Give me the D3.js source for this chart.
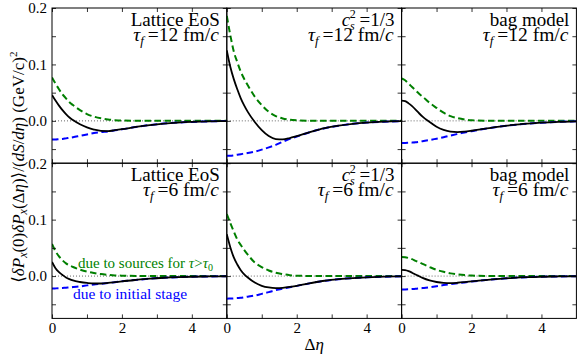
<!DOCTYPE html>
<html><head><meta charset="utf-8">
<script src="https://cdn.jsdelivr.net/npm/d3@7"></script>
<style>
body{margin:0;background:#fff}
svg{display:block}
svg text{font-family:"Liberation Serif","Times New Roman","DejaVu Serif",serif !important}
</style>
</head><body>
<svg id="c" width="581" height="355"></svg>
<script>
// ---- data ----
const dEta = [0,0.1,0.2,0.3,0.4,0.5,0.6,0.8,1.0,1.2,1.4,1.6,1.8,2.0,2.4,2.8,3.2,3.6,4.0,4.5,5.0];

const eosNames = ["Lattice EoS", "cs2", "bag model"];
const tauF = ["12", "6"];
const xTickValues = [0,1,2,3,4];
const xTickLabels = [0,2,4];
const yTickValues = [-0.05,0,0.05,0.1,0.15,0.2];
const yTickLabels = [0,0.1,0.2];

// top row: tau_f = 12 fm/c
const latt12Total   = [0.046,0.036,0.027,0.019,0.012,0.006,0.0015,-0.006,-0.0115,-0.0155,-0.0178,-0.018,-0.0165,-0.0148,-0.0108,-0.0074,-0.0048,-0.003,-0.0018,-0.0008,-0.0003];
const latt12Sources = [0.077,0.066,0.056,0.047,0.040,0.033,0.028,0.019,0.012,0.0075,0.0045,0.0025,0.0013,0.0006,0.0002,0,0,0,0,0,0];
const latt12Initial = [-0.033,-0.033,-0.0325,-0.032,-0.031,-0.030,-0.029,-0.0265,-0.024,-0.0215,-0.0198,-0.0186,-0.0168,-0.015,-0.0108,-0.0074,-0.0048,-0.003,-0.0018,-0.0008,-0.0003];

const cs12Total   = [0.125,0.096,0.074,0.056,0.040,0.027,0.016,-0.002,-0.0165,-0.027,-0.0322,-0.0328,-0.0305,-0.027,-0.0195,-0.013,-0.0085,-0.0052,-0.003,-0.0014,-0.0006];
const cs12Sources = [0.186,0.152,0.123,0.104,0.087,0.074,0.063,0.043,0.028,0.016,0.0085,0.0042,0.002,0.001,0.0003,0,0,0,0,0,0];
const cs12Initial = [-0.062,-0.0618,-0.061,-0.060,-0.059,-0.058,-0.057,-0.0545,-0.051,-0.047,-0.0425,-0.037,-0.032,-0.0278,-0.0197,-0.013,-0.0085,-0.0052,-0.003,-0.0014,-0.0006];

const bag12Total   = [0.036,0.035,0.031,0.026,0.020,0.0135,0.0075,-0.002,-0.0105,-0.016,-0.019,-0.0198,-0.019,-0.0175,-0.0138,-0.0102,-0.0072,-0.005,-0.0032,-0.0017,-0.0008];
const bag12Sources = [0.075,0.072,0.066,0.060,0.054,0.048,0.043,0.032,0.023,0.0145,0.0085,0.0048,0.0025,0.0012,0.0003,0,0,0,0,0,0];
const bag12Initial = [-0.039,-0.039,-0.0388,-0.0385,-0.038,-0.037,-0.036,-0.034,-0.0315,-0.029,-0.026,-0.0232,-0.0205,-0.0182,-0.0138,-0.0102,-0.0072,-0.005,-0.0032,-0.0017,-0.0008];

// bottom row: tau_f = 6 fm/c
const latt6Total   = [0.025,0.014,0.007,0.002,-0.0025,-0.0055,-0.0078,-0.0105,-0.0122,-0.0132,-0.0132,-0.0122,-0.0108,-0.0093,-0.0068,-0.0046,-0.003,-0.0019,-0.0012,-0.0006,-0.0003];
const latt6Sources = [0.057,0.044,0.035,0.028,0.0225,0.0188,0.016,0.0115,0.008,0.0055,0.0035,0.0022,0.0012,0.0007,0.0002,0,0,0,0,0,0];
const latt6Initial = [-0.022,-0.0218,-0.0215,-0.021,-0.0205,-0.020,-0.0195,-0.0183,-0.0165,-0.0148,-0.0137,-0.0124,-0.0109,-0.0093,-0.0068,-0.0046,-0.003,-0.0019,-0.0012,-0.0006,-0.0003];

const cs6Total   = [0.074,0.051,0.033,0.0205,0.0105,0.003,-0.0025,-0.0115,-0.0172,-0.0202,-0.0213,-0.0208,-0.0193,-0.0172,-0.0125,-0.0083,-0.0055,-0.0035,-0.0022,-0.0011,-0.0005];
const cs6Sources = [0.11,0.094,0.079,0.065,0.055,0.046,0.038,0.024,0.016,0.0098,0.006,0.0035,0.0015,0.0007,0.0002,0,0,0,0,0,0];
const cs6Initial = [-0.040,-0.0398,-0.0395,-0.039,-0.0385,-0.0375,-0.0365,-0.0345,-0.0315,-0.0285,-0.025,-0.0222,-0.0198,-0.0174,-0.0125,-0.0083,-0.0055,-0.0035,-0.0022,-0.0011,-0.0005];

const bag6Total   = [0.011,0.0105,0.0088,0.006,0.0027,-0.0003,-0.0033,-0.0078,-0.0105,-0.012,-0.0124,-0.0118,-0.0107,-0.0094,-0.0071,-0.0048,-0.0031,-0.0019,-0.0012,-0.0006,-0.0003];
const bag6Sources = [0.034,0.0335,0.032,0.030,0.027,0.0245,0.0215,0.016,0.011,0.0075,0.0048,0.003,0.0017,0.0009,0.0003,0,0,0,0,0,0];
const bag6Initial = [-0.0237,-0.0236,-0.0234,-0.023,-0.0225,-0.022,-0.0212,-0.0198,-0.018,-0.016,-0.0142,-0.0126,-0.0112,-0.0097,-0.0071,-0.0048,-0.0031,-0.0019,-0.0012,-0.0006,-0.0003];

const panels = [
  {row:0,col:0,total:latt12Total,sources:latt12Sources,initial:latt12Initial},
  {row:0,col:1,total:cs12Total,sources:cs12Sources,initial:cs12Initial},
  {row:0,col:2,total:bag12Total,sources:bag12Sources,initial:bag12Initial},
  {row:1,col:0,total:latt6Total,sources:latt6Sources,initial:latt6Initial},
  {row:1,col:1,total:cs6Total,sources:cs6Sources,initial:cs6Initial},
  {row:1,col:2,total:bag6Total,sources:bag6Sources,initial:bag6Initial}
];

// ---- layout ----
const svg = d3.select("#c");
const mLeft = 52, mTop = 8, pw = 174.8, ph = 155.2;
const GREEN = "#007f00", BLUE = "#0000ff";
const x = d3.scaleLinear().domain([0,5]).range([0,pw]);
const y = d3.scaleLinear().domain([-0.075,0.2]).range([ph,0]);
const fmtY = d3.format(".1f");
const isIn = (arr,v)=>arr.some(a=>Math.abs(a-v)<1e-9);

svg.append("defs").append("clipPath").attr("id","clip")
  .append("rect").attr("width",pw).attr("height",ph);

panels.forEach(p=>{
  const g = svg.append("g").attr("transform",`translate(${mLeft+p.col*pw},${mTop+p.row*ph})`);
  const plot = g.append("g").attr("clip-path","url(#clip)");
  plot.append("line").attr("x1",0).attr("x2",pw).attr("y1",y(0)).attr("y2",y(0))
    .attr("stroke","#000").attr("stroke-width",0.6).attr("stroke-dasharray","1,2");
  const line = arr => d3.line().x((d,i)=>x(dEta[i])).y(d=>y(d)).curve(d3.curveMonotoneX)(arr);
  plot.append("path").attr("d",line(p.sources)).attr("fill","none").attr("stroke",GREEN)
    .attr("stroke-width",2).attr("stroke-dasharray","6.5,3.5");
  plot.append("path").attr("d",line(p.initial)).attr("fill","none").attr("stroke",BLUE)
    .attr("stroke-width",2).attr("stroke-dasharray","6.5,3.5");
  plot.append("path").attr("d",line(p.total)).attr("fill","none").attr("stroke","#000")
    .attr("stroke-width",1.8);

  const axB = d3.axisBottom(x).tickValues(xTickValues).tickSize(-4).tickPadding(4)
    .tickFormat(v => (p.row===1 && isIn(xTickLabels,v)) ? String(v) : "");
  const axT = d3.axisTop(x).tickValues(xTickValues).tickSize(-4).tickFormat("");
  const axL = d3.axisLeft(y).tickValues(yTickValues).tickSize(-4).tickPadding(5)
    .tickFormat(v => (p.col===0 && isIn(yTickLabels,v)) ? fmtY(v) : "");
  const axR = d3.axisRight(y).tickValues(yTickValues).tickSize(-4).tickFormat("");
  [[axB,`translate(0,${ph})`],[axT,"translate(0,0)"],[axL,"translate(0,0)"],[axR,`translate(${pw},0)`]]
    .forEach(([ax,tr])=>{
      const a = g.append("g").attr("transform",tr).call(ax);
      a.attr("font-size", 15);
      a.select(".domain").remove();
      a.selectAll("line").attr("stroke","#000").attr("stroke-width",0.8);
      a.selectAll("text").attr("fill","#000");
    });
  g.append("rect").attr("width",pw).attr("height",ph).attr("fill","none")
    .attr("stroke","#000").attr("stroke-width",1);

  const rx = pw - 7;
  const t1 = g.append("text").attr("x",rx).attr("y",18).attr("text-anchor","end").attr("font-size",19);
  if (eosNames[p.col]==="cs2") {
    t1.append("tspan").attr("font-style","italic").text("c");
    t1.append("tspan").attr("font-style","italic").attr("font-size",12).attr("dy",4).text("s");
    t1.append("tspan").attr("font-size",12).attr("dx",-5).attr("dy",-12).text("2");
    t1.append("tspan").attr("dy",8).text("\u2009=1/3");
  } else {
    t1.text(eosNames[p.col]);
  }
  const t2 = g.append("text").attr("x",rx-1).attr("y",33).attr("text-anchor","end").attr("font-size",19.5);
  t2.append("tspan").attr("font-style","italic").text("\u03c4");
  t2.append("tspan").attr("font-style","italic").attr("font-size",13).attr("dy",4).text("f");
  t2.append("tspan").attr("dy",-4).text("\u2009=" + tauF[p.row] + " fm/");
  t2.append("tspan").attr("font-style","italic").text("c");
});

const ann1 = svg.append("text").attr("x",78).attr("y",267.5).attr("font-size",15).attr("fill",GREEN);
ann1.append("tspan").text("due to sources for ");
ann1.append("tspan").attr("font-style","italic").text("\u03c4");
ann1.append("tspan").text(">");
ann1.append("tspan").attr("font-style","italic").text("\u03c4");
ann1.append("tspan").attr("font-size",10).attr("dy",3).text("0");
svg.append("text").attr("x",73).attr("y",298.5).attr("font-size",15.5).attr("fill",BLUE)
  .text("due to initial stage");

const xl = svg.append("text").attr("x",mLeft+1.5*pw).attr("y",350).attr("text-anchor","middle").attr("font-size",17);
xl.append("tspan").text("\u0394");
xl.append("tspan").attr("font-style","italic").text("\u03b7");

const yl = svg.append("text").attr("transform",`translate(24,${mTop+ph+4}) rotate(-90)`)
  .attr("text-anchor","middle").attr("font-size",17);
yl.append("tspan").text("\u27e8");
yl.append("tspan").attr("font-style","italic").text("\u03b4P");
yl.append("tspan").attr("font-style","italic").attr("font-size",12).attr("dy",3).text("x");
yl.append("tspan").attr("dy",-3).text("(0)");
yl.append("tspan").attr("font-style","italic").text("\u03b4P");
yl.append("tspan").attr("font-style","italic").attr("font-size",12).attr("dy",3).text("x");
yl.append("tspan").attr("dy",-3).text("(\u0394");
yl.append("tspan").attr("font-style","italic").text("\u03b7");
yl.append("tspan").text(")\u27e9/(");
yl.append("tspan").attr("font-style","italic").text("dS");
yl.append("tspan").text("/");
yl.append("tspan").attr("font-style","italic").text("d\u03b7");
yl.append("tspan").text(") (GeV/c)");
yl.append("tspan").attr("font-size",11).attr("dy",-7).text("2");
</script>
</body></html>
